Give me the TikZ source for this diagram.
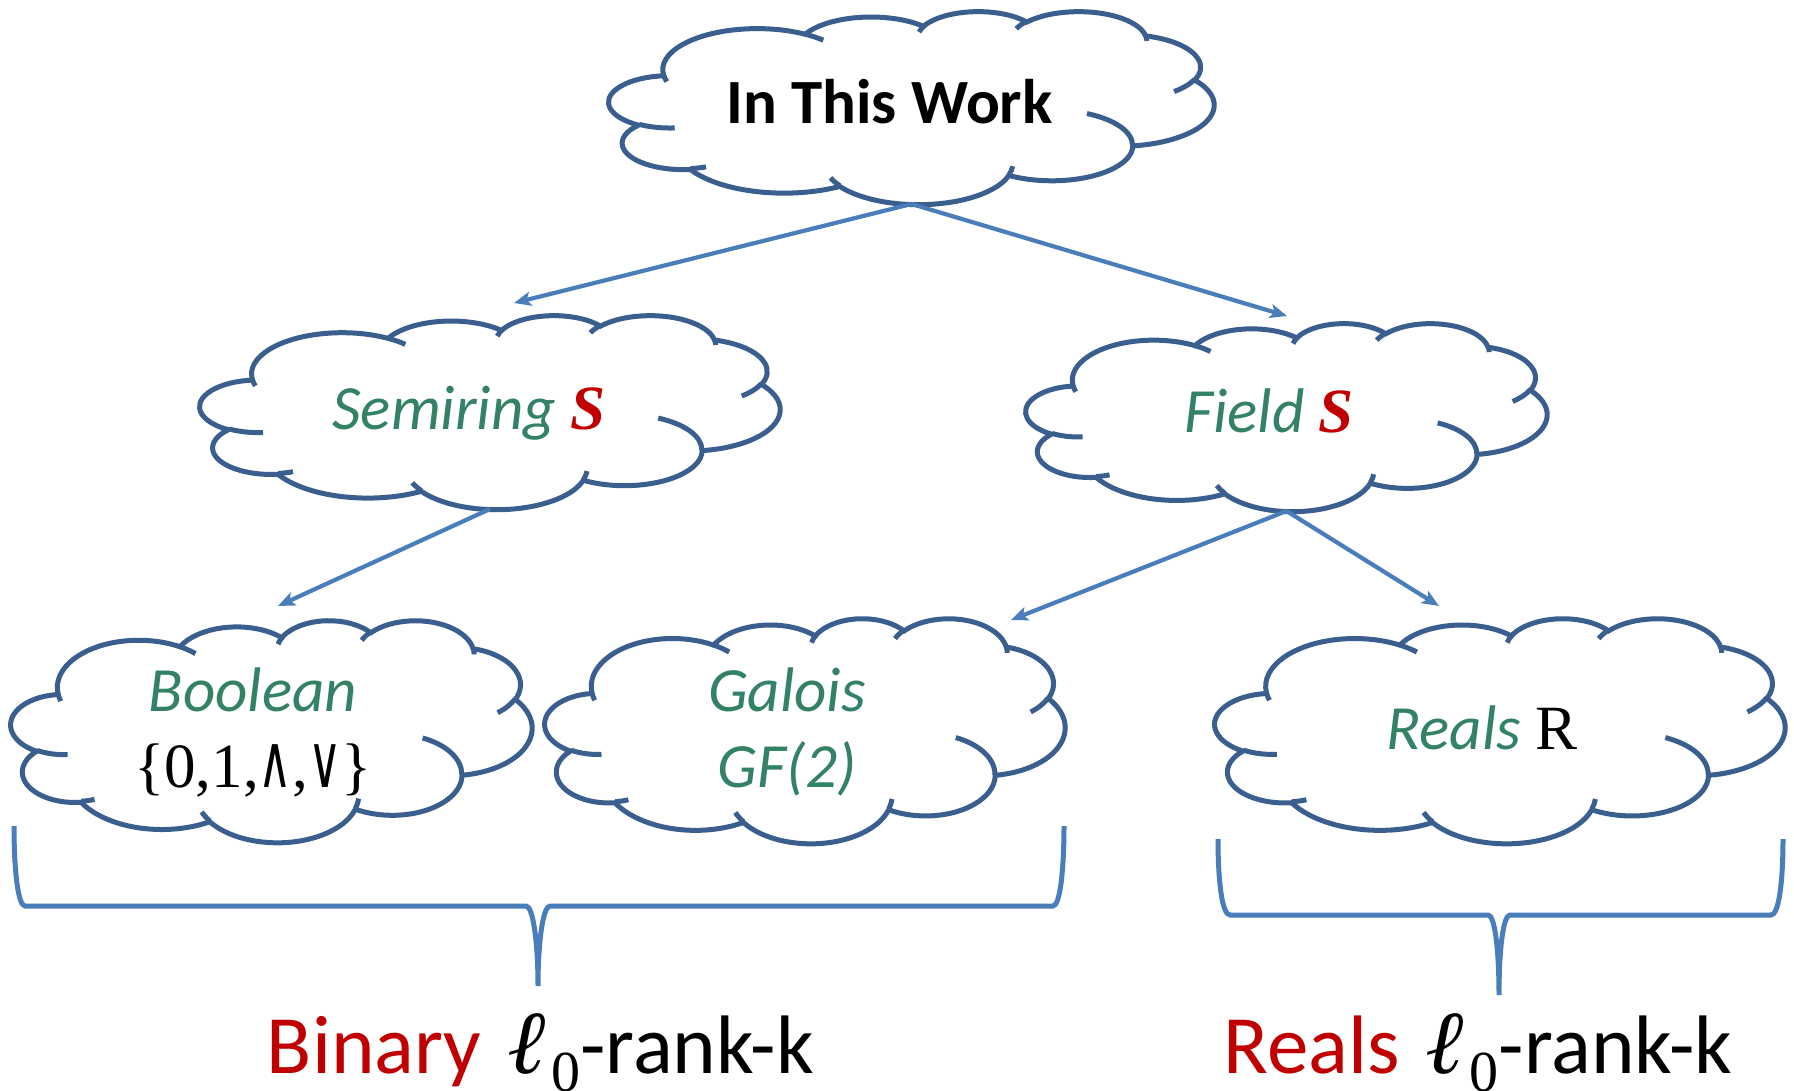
\documentclass[tikz,border=0pt]{standalone}
\usepackage{fontspec}
\usepackage{graphicx}
\setmainfont{Carlito}
\newfontfamily\serifface{Liberation Serif}
\newfontfamily\dvsans{DejaVu Sans}
\newfontfamily\ellfont[FakeSlant=0.2]{Liberation Serif}
\usetikzlibrary{arrows.meta,calc}
\definecolor{cloudblue}{HTML}{3A5F8E}
\definecolor{linkblue}{HTML}{4A7EBB}
\definecolor{txtgreen}{RGB}{52,130,100}
\definecolor{txtred}{HTML}{C00000}

% point in cloud path units (thousandths of the 43200 frame)
\newcommand\ccpt[2]{\pgfpoint{\cclx pt+#1*\ccsx pt}{-\ccty pt-#2*\ccsy pt}}
% OOXML-style arcTo: wR hR stAng swAng (degrees), angles taken in path space
\newcommand\ooarc[4]{%
  \pgfmathsetmacro\ccrx{#1*\ccsx}%
  \pgfmathsetmacro\ccry{#2*\ccsy}%
  \pgfmathsetmacro\ccta{atan2(#1*sin(#3),#2*cos(#3))}%
  \pgfmathsetmacro\cctb{atan2(#1*sin(#3+#4),#2*cos(#3+#4))}%
  \pgfmathsetmacro\cctb{\cctb<\ccta ? \cctb+360 : \cctb}%
  \pgfpatharcaxes{\ccta}{\cctb}{\pgfpoint{\ccrx pt}{0pt}}{\pgfpoint{0pt}{-\ccry pt}}%
}
% cloud: center x, center y, width, height (pixels, y downwards)
\newcommand\ppcloud[4]{%
  \pgfmathsetmacro\ccsx{#3/43.2}%
  \pgfmathsetmacro\ccsy{#4/43.2}%
  \pgfmathsetmacro\cclx{#1-#3/2}%
  \pgfmathsetmacro\ccty{#2-#4/2}%
  \begin{pgfscope}
  \pgfsetlinewidth{5pt}%
  \pgfsetstrokecolor{cloudblue}%
  \pgfsetfillcolor{white}%
  \pgfpathmoveto{\ccpt{3.900}{14.370}}%
  \ooarc{6.753}{9.190}{-190.487}{123.781}%
  \ooarc{5.333}{7.267}{-144.102}{89.945}%
  \ooarc{4.365}{5.945}{-145.808}{99.723}%
  \ooarc{4.857}{6.595}{-130.986}{117.242}%
  \ooarc{5.333}{7.273}{-78.709}{109.027}%
  \ooarc{6.775}{9.220}{-46.267}{130.269}%
  \ooarc{5.785}{7.867}{0.625}{114.033}%
  \ooarc{6.752}{9.215}{22.452}{115.173}%
  \ooarc{7.720}{10.543}{66.243}{75.711}%
  \ooarc{4.360}{5.918}{-274.942}{146.736}%
  \ooarc{4.345}{5.945}{-246.829}{152.519}%
  \pgfpathclose
  \pgfusepath{fill,stroke}%
  \pgfpathmoveto{\ccpt{4.693}{26.177}}\ooarc{4.345}{5.945}{86.742}{26.430}%
  \pgfpathmoveto{\ccpt{6.928}{34.899}}\ooarc{4.360}{5.918}{73.610}{11.447}%
  \pgfpathmoveto{\ccpt{16.478}{39.090}}\ooarc{6.752}{9.215}{137.624}{14.081}%
  \pgfpathmoveto{\ccpt{28.827}{34.751}}\ooarc{6.752}{9.215}{6.453}{15.998}%
  \pgfpathmoveto{\ccpt{34.129}{22.954}}\ooarc{5.785}{7.867}{-70.292}{70.917}%
  \pgfpathmoveto{\ccpt{41.798}{15.354}}\ooarc{5.333}{7.273}{30.318}{27.752}%
  \pgfpathmoveto{\ccpt{38.324}{5.426}}\ooarc{4.857}{6.595}{-13.744}{14.859}%
  \pgfpathmoveto{\ccpt{29.078}{3.952}}\ooarc{4.857}{6.595}{-149.181}{18.195}%
  \pgfpathmoveto{\ccpt{22.141}{4.720}}\ooarc{4.365}{5.945}{-163.494}{19.504}%
  \pgfpathmoveto{\ccpt{14.000}{5.192}}\ooarc{6.753}{9.190}{-66.707}{12.319}%
  \pgfpathmoveto{\ccpt{4.127}{15.789}}\ooarc{6.753}{9.190}{157.654}{11.858}%
  \pgfusepath{stroke}%
  \end{pgfscope}%
}
% l_0 with a lowered serif zero
\newcommand\ellzero{{\ellfont\fontsize{90}{90}\selectfont ℓ}\hspace{8pt}\raisebox{-18pt}{\serifface\fontsize{58}{58}\selectfont 0}}
\newcommand\opsym[1]{\scalebox{0.62}[1]{\dvsans\fontsize{74}{74}\selectfont #1}}

\tikzset{
  cloudbox/.style={inner sep=0pt, outer sep=0pt},
  txt/.style={inner sep=0pt, anchor=base, font=\fontsize{63}{75}\selectfont},
  bigtxt/.style={inner sep=0pt, anchor=base, font=\fontsize{83}{100}\selectfont},
  link/.style={draw=linkblue, line width=4.2pt, -{Stealth[length=17pt,width=14pt,inset=4pt]}},
  bracket/.style={draw=linkblue, line width=5pt}
}

\begin{document}
\begin{tikzpicture}[x=1pt, y=-1pt]
\useasboundingbox (0,0) rectangle (1794,1091);

% clouds
\ppcloud{911.5}{107.5}{605}{193}
\node[cloudbox, minimum width=605pt, minimum height=193pt] (top) at (911.5,107.5) {};
\ppcloud{490}{412}{580}{194}
\node[cloudbox, minimum width=580pt, minimum height=194pt] (semi) at (490,412) {};
\ppcloud{1286.5}{417}{521}{188}
\node[cloudbox, minimum width=521pt, minimum height=188pt] (field) at (1286.5,417) {};
\ppcloud{271.5}{731}{521}{222}
\node[cloudbox, minimum width=521pt, minimum height=222pt] (bool) at (271.5,731) {};
\ppcloud{805}{730.5}{520}{225}
\node[cloudbox, minimum width=520pt, minimum height=225pt] (galois) at (805,730.5) {};
\ppcloud{1500}{730.5}{570}{225}
\node[cloudbox, minimum width=570pt, minimum height=225pt] (reals) at (1500,730.5) {};

% texts
\node[txt] (toptxt) at (889.5,123.5) {\bfseries In This Work};
\node[txt] (semitxt) at (469,429) {\color{txtgreen}\itshape Semiring {\color{txtred}\serifface\bfseries\itshape S}};
\node[txt] (fieldtxt) at (1269,432) {\color{txtgreen}\itshape Field {\color{txtred}\serifface\bfseries\itshape S}};
\node[txt] (booltxt) at (253,711) {\color{txtgreen}\itshape Boolean};
\node[txt] (boolset) at (253,787) {\serifface\{0,1,\opsym{∧},\opsym{∨}\}};
\node[txt] (galtxt) at (787,711) {\color{txtgreen}\itshape Galois};
\node[txt] (gftxt) at (787,787) {\color{txtgreen}\itshape GF(2)};
\node[txt] (realtxt) at (1482,749) {{\color{txtgreen}\itshape Reals} {\serifface R}};

% arrows
\coordinate (a1) at (514,303);
\coordinate (a2) at (1287,316);
\coordinate (a3) at (278,606);
\coordinate (a4) at (1011,620);
\coordinate (a5) at (1439,606);
\draw[link] (top.south) -- (a1);
\draw[link] (top.south) -- (a2);
\draw[link] (semi.south) -- (a3);
\draw[link] (field.south) -- (a4);
\draw[link] (field.south) -- (a5);

% braces
\draw[bracket] (14,826) .. controls (14,870) and (18,906) .. (25,906) -- (526,906)
  .. controls (533,906) and (538,942) .. (538,986)
  .. controls (538,942) and (543,906) .. (550,906) -- (1053,906)
  .. controls (1060,906) and (1064,870) .. (1064,826);
\draw[bracket] (1218,839) .. controls (1218,881) and (1222,915) .. (1230,915) -- (1488,915)
  .. controls (1495,915) and (1499,951) .. (1499,995)
  .. controls (1499,951) and (1503,915) .. (1510,915) -- (1771,915)
  .. controls (1779,915) and (1783,881) .. (1783,839);

% labels
\node[bigtxt] (binlab) at (540.5,1073) {{\color{txtred}Binary} \ellzero-rank-k};
\node[bigtxt] (reallab) at (1478,1073) {{\color{txtred}Reals} \ellzero-rank-k};
\end{tikzpicture}
\end{document}
